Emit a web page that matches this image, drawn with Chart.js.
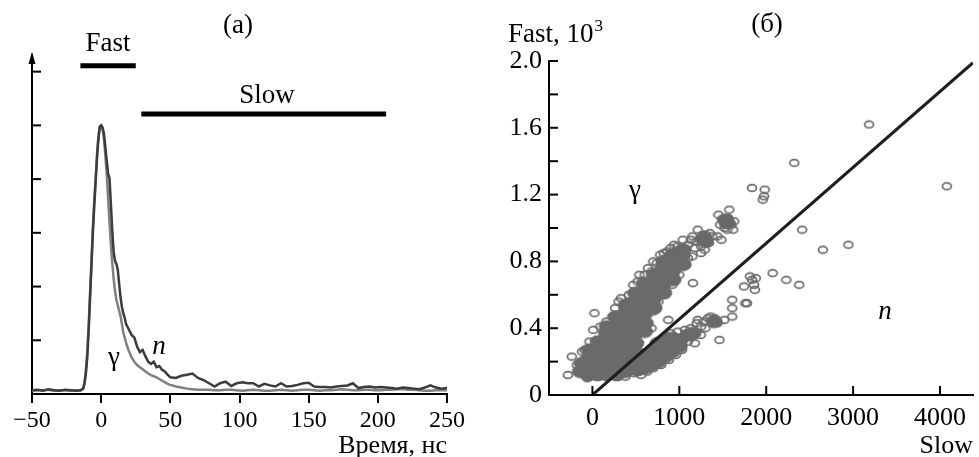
<!DOCTYPE html>
<html><head><meta charset="utf-8">
<script src="https://cdn.jsdelivr.net/npm/chart.js@4.4.1/dist/chart.umd.min.js"></script>
<style>
html,body{margin:0;padding:0;background:#fff;width:979px;height:457px;overflow:hidden}
#c1{position:absolute;left:0;top:0}
#c2{position:absolute;left:470px;top:0}
</style></head><body>
<canvas id="c1" width="470" height="457"></canvas>
<canvas id="c2" width="509" height="457"></canvas>
<script>
// ---------- Panel (а): pulse shapes ----------
const times = [-50,-46,-42,-38,-34,-30,-26,-22,-18,-15,
  -13,-12,-11,-10,-9,-8,-7,-6,-5,-4,-3,-2,-1,0,
  1,2,3,4,5,6,7,8,9,10,11,12,13,14,15,16,17,18,
  20,22,24,26,28,30,32,34,36,38,40,42,44,46,48,50,
  54,58,62,66,70,74,78,82,86,90,94,98,102,106,110,114,118,122,126,130,
  134,138,142,146,150,154,158,162,166,170,174,178,182,186,190,194,198,202,206,210,
  214,218,222,226,230,234,238,242,246,250];
const neutronPulse = [0.07,0.08,0.06,0.09,0.07,0.06,0.08,0.07,0.06,0.07,
  0.1,0.2,0.4,0.7,1.2,1.8,2.4,3.0,3.5,3.95,4.4,4.75,4.97,5.0,
  4.96,4.85,4.6,4.35,4.1,4.02,3.55,3.05,2.65,2.48,2.42,2.32,2.05,1.8,1.62,1.5,1.42,1.3,
  1.2,1.1,1.05,0.88,0.78,0.82,0.7,0.6,0.56,0.6,0.5,0.52,0.45,0.42,0.36,0.31,
  0.3,0.34,0.36,0.38,0.3,0.26,0.2,0.14,0.2,0.23,0.15,0.2,0.22,0.2,0.2,0.14,0.19,0.16,0.14,0.2,
  0.14,0.15,0.17,0.2,0.21,0.14,0.13,0.13,0.12,0.14,0.15,0.16,0.2,0.11,0.13,0.14,0.12,0.13,0.12,0.11,
  0.1,0.12,0.11,0.1,0.09,0.12,0.16,0.12,0.1,0.11];
const gammaPulse = [0.06,0.07,0.07,0.08,0.06,0.07,0.07,0.06,0.07,0.06,
  0.1,0.22,0.45,0.8,1.3,1.9,2.5,3.1,3.6,4.0,4.45,4.8,4.98,4.99,
  4.92,4.75,4.45,4.1,3.65,3.2,2.8,2.45,2.15,1.92,1.76,1.65,1.55,1.45,1.3,1.15,1.05,0.95,
  0.8,0.68,0.6,0.54,0.5,0.46,0.42,0.38,0.35,0.33,0.31,0.28,0.25,0.22,0.19,0.17,
  0.14,0.12,0.1,0.09,0.08,0.08,0.08,0.07,0.07,0.08,0.08,0.07,0.06,0.07,0.08,0.07,0.06,0.06,0.07,0.08,
  0.07,0.06,0.07,0.08,0.08,0.07,0.06,0.07,0.07,0.08,0.09,0.08,0.07,0.07,0.08,0.08,0.07,0.07,0.08,0.08,
  0.09,0.09,0.08,0.08,0.07,0.06,0.06,0.07,0.07,0.07];
const fastGate = [-15, 25];
const slowGate = [29, 206];
const fastGateLevel = 6.11;
const slowGateLevel = 5.21;
const leftXTickValues = [-50,0,50,100,150,200,250];
const leftXTickLabels = ['\u221250','0','50','100','150','200','250'];
const leftYTickValues = [1,2,3,4,5,6];

// ---------- Panel (б): Fast vs Slow ----------
const gammaCore = [[-140,0.14],[-120,0.19],
  [-50,0.12],[-30,0.17],[-45,0.22],[-35,0.27],
  [60,0.12],[50,0.17],[70,0.22],[55,0.27],[65,0.32],
  [170,0.12],[160,0.17],[180,0.22],[165,0.27],[175,0.32],[160,0.37],[170,0.41],
  [280,0.12],[290,0.17],[270,0.22],[285,0.27],[275,0.32],[290,0.37],[280,0.42],[275,0.47],
  [380,0.14],[395,0.19],[385,0.24],[400,0.29],[390,0.34],[380,0.39],[395,0.44],[385,0.49],[390,0.54],
  [490,0.26],[500,0.31],[485,0.36],[495,0.41],[505,0.46],[490,0.51],[500,0.56],[495,0.61],
  [600,0.38],[610,0.43],[595,0.48],[605,0.53],[600,0.58],[610,0.63],[600,0.67],
  [710,0.52],[700,0.57],[715,0.62],[705,0.67],[710,0.72],
  [820,0.61],[810,0.66],[825,0.71],[815,0.76],[820,0.8],
  [930,0.69],[920,0.74],[935,0.79],[925,0.84],
  [1040,0.78],[1030,0.83],[1045,0.87],
  [1280,0.94],[1300,0.92],[1530,1.05],[1550,1.03]];
const neutronCore = [[440,0.16],[450,0.20],[520,0.15],[530,0.19],[525,0.23],[600,0.16],[610,0.20],
  [605,0.24],[680,0.18],[690,0.22],[685,0.26],[760,0.20],[770,0.24],[765,0.28],[755,0.31],
  [840,0.23],[850,0.27],[845,0.31],[855,0.34],[920,0.26],[930,0.30],[925,0.34],[1000,0.29],
  [1010,0.33],[1100,0.36],[1160,0.37],[1400,0.44]];
const gammaScatter = [[-283,0.12],[-238,0.23],[-180,0.18],[-120,0.26],[-91,0.27],[-34,0.32],[-60,0.10],
  [10,0.39],[23,0.49],[90,0.41],[159,0.44],[170,0.40],[120,0.33],[230,0.47],[260,0.52],[329,0.58],
  [363,0.52],[300,0.56],[420,0.60],[440,0.56],[470,0.66],[520,0.68],[555,0.43],[540,0.72],[600,0.72],
  [640,0.76],[680,0.74],[680,0.40],[700,0.80],[740,0.79],[780,0.84],[820,0.85],[860,0.86],[873,0.45],
  [900,0.88],[940,0.90],[980,0.89],[1000,0.82],[1040,0.93],[1060,0.86],[1099,0.82],[1100,0.90],
  [1133,0.93],[1150,0.95],[1156,0.67],[1180,0.88],[1200,0.92],[1212,0.99],[1235,0.93],[1250,0.89],
  [1270,0.96],[1292,0.87],[1303,0.96],[1320,0.93],[1340,0.91],[1350,0.97],[1380,0.95],[1439,0.95],
  [1450,1.08],[1470,1.02],[1484,0.93],[1500,1.05],[1520,1.00],[1530,1.03],[1552,0.99],[1560,1.06],
  [1575,1.11],[1600,1.02],[1632,1.04],[1620,0.99],[1836,1.24],[1983,1.23],[1960,1.17],[1975,1.19],
  [2323,1.39],[3184,1.62],
  [450,0.22],[520,0.30],[600,0.40],[700,0.50],[760,0.56],[850,0.62],[920,0.66],[1000,0.72],
  [1080,0.78],[1150,0.83],[1250,0.85]];
const neutronScatter = [[380,0.11],[420,0.21],[480,0.13],[500,0.20],[560,0.12],[590,0.25],[630,0.14],
  [680,0.27],[700,0.16],[790,0.18],[800,0.33],[880,0.21],[900,0.37],[960,0.24],[980,0.38],[1030,0.27],
  [1040,0.34],[1065,0.39],[1090,0.36],[1100,0.32],[1130,0.40],[1150,0.35],[1178,0.31],[1200,0.43],
  [1212,0.45],[1246,0.36],[1250,0.41],[1280,0.44],[1300,0.40],[1330,0.46],[1360,0.47],[1380,0.43],
  [1405,0.46],[1420,0.44],[1440,0.43],[1462,0.33],[1518,0.45],[1609,0.57],[1609,0.52],[1609,0.47],
  [1745,0.65],[1760,0.55],[1779,0.55],[1813,0.71],[1836,0.69],[1860,0.66],[1870,0.63],[1880,0.70],
  [2074,0.73],[2232,0.69],[2380,0.66],[2414,0.99],[2652,0.87],[2946,0.90],[4079,1.25]];
const separatorLine = [[0,0],[4380,1.99]];
const rightXTickValues = [0,1000,2000,3000,4000];
const rightXTickLabels = ['0','1000','2000','3000','4000'];
const rightYTickValues = [0,0.2,0.4,0.6,0.8,1.0,1.2,1.4,1.6,1.8,2.0];
const rightYTickLabels = ['0','','0.4','','0.8','','1.2','','1.6','','2.0'];

// ---------- styling ----------
Chart.defaults.font.family = '"Liberation Serif", "Times New Roman", serif';
Chart.defaults.color = '#000';

function ringMarker() {
  const c = document.createElement('canvas'); c.width = 12; c.height = 10;
  const g = c.getContext('2d');
  g.strokeStyle = '#6a6a6a'; g.lineWidth = 1.7;
  g.beginPath(); g.ellipse(6, 5, 4.5, 3.4, 0, 0, Math.PI*2); g.stroke();
  return c;
}
function blobMarker() {
  const c = document.createElement('canvas'); c.width = 18; c.height = 14;
  const g = c.getContext('2d');
  g.fillStyle = '#6b6b6b';
  g.beginPath(); g.ellipse(9, 7, 8.4, 6.4, 0, 0, Math.PI*2); g.fill();
  return c;
}
const ring = ringMarker(), blob = blobMarker();
const toXY = arr => arr.map(p => ({x: p[0], y: p[1]}));

const leftDecor = {
  id: 'leftDecor',
  afterDraw(chart) {
    const {ctx, chartArea: a, scales: {y}} = chart;
    ctx.save();
    ctx.strokeStyle = '#000'; ctx.lineWidth = 2;
    leftYTickValues.forEach(v => {
      const py = y.getPixelForValue(v);
      ctx.beginPath(); ctx.moveTo(a.left, py); ctx.lineTo(a.left + 9, py); ctx.stroke();
    });
    ctx.fillStyle = '#000';
    ctx.beginPath(); ctx.moveTo(a.left, a.top - 3); ctx.lineTo(a.left - 3.5, a.top + 9); ctx.lineTo(a.left + 3.5, a.top + 9); ctx.closePath(); ctx.fill();
    ctx.textAlign = 'center'; ctx.textBaseline = 'middle';
    ctx.font = '27px "Liberation Serif"';
    ctx.fillText('(а)', 238, 26);
    ctx.fillText('Fast', 108, 44);
    ctx.fillText('Slow', 267, 96);
    ctx.fillText('\u03b3', 114, 358);
    ctx.font = 'italic 27px "Liberation Serif"';
    ctx.fillText('n', 159, 347);
    ctx.restore();
  }
};

const rightDecor = {
  id: 'rightDecor',
  afterDraw(chart) {
    const {ctx, chartArea: a, scales: {x, y}} = chart;
    ctx.save();
    ctx.strokeStyle = '#000'; ctx.lineWidth = 2;
    rightYTickValues.forEach(v => {
      const py = y.getPixelForValue(v);
      ctx.beginPath(); ctx.moveTo(a.left, py); ctx.lineTo(a.left + 9, py); ctx.stroke();
    });
    rightXTickValues.forEach(v => {
      const px = x.getPixelForValue(v);
      ctx.beginPath(); ctx.moveTo(px, a.bottom); ctx.lineTo(px, a.bottom - 9); ctx.stroke();
    });
    ctx.fillStyle = '#000';
    ctx.textAlign = 'center'; ctx.textBaseline = 'middle';
    ctx.font = '27px "Liberation Serif"';
    ctx.fillText('(б)', 297, 25);
    ctx.fillText('\u03b3', 165, 191);
    ctx.textAlign = 'left';
    const label = 'Fast, 10';
    ctx.fillText(label, 38, 35);
    const w = ctx.measureText(label).width;
    ctx.font = '17px "Liberation Serif"';
    ctx.fillText('3', 38 + w + 1, 27);
    ctx.textAlign = 'center';
    ctx.font = 'italic 27px "Liberation Serif"';
    ctx.fillText('n', 415, 312);
    ctx.restore();
  }
};

new Chart(document.getElementById('c1'), {
  type: 'line',
  data: {
    datasets: [
      {label: 'n', data: times.map((t, i) => ({x: t, y: neutronPulse[i]})), borderColor: '#3c3c3c', borderWidth: 2.5, pointRadius: 0, tension: 0},
      {label: 'γ', data: times.map((t, i) => ({x: t, y: gammaPulse[i]})), borderColor: '#808080', borderWidth: 2.5, pointRadius: 0, tension: 0},
      {label: 'Fast gate', data: fastGate.map(t => ({x: t, y: fastGateLevel})), borderColor: '#000', borderWidth: 5, pointRadius: 0, borderCapStyle: 'butt'},
      {label: 'Slow gate', data: slowGate.map(t => ({x: t, y: slowGateLevel})), borderColor: '#000', borderWidth: 5, pointRadius: 0, borderCapStyle: 'butt'}
    ]
  },
  options: {
    responsive: false, animation: false, devicePixelRatio: 1,
    layout: {padding: {left: 32, top: 55, right: 23, bottom: 0}},
    plugins: {legend: {display: false}, tooltip: {enabled: false}},
    scales: {
      x: {
        type: 'linear', min: -50, max: 250,
        afterBuildTicks: s => { s.ticks = leftXTickValues.map(v => ({value: v})); },
        afterFit: s => { s.height = 63; },
        ticks: {callback: (v, i) => leftXTickLabels[i], font: {size: 24}, padding: 3, maxRotation: 0, autoSkip: false, color: '#000'},
        grid: {display: true, drawOnChartArea: false, drawTicks: true, tickLength: 9, color: '#000', lineWidth: 2},
        border: {display: true, color: '#000', width: 2},
        title: {display: true, text: 'Время, нс', align: 'end', font: {size: 26}, color: '#000', padding: {top: 0, bottom: -5}}
      },
      y: {
        type: 'linear', min: 0, max: 6.31,
        afterFit: s => { s.width = 0; },
        ticks: {display: false},
        grid: {display: true, drawOnChartArea: false, drawTicks: false},
        border: {display: true, color: '#000', width: 2}
      }
    }
  },
  plugins: [leftDecor]
});

new Chart(document.getElementById('c2'), {
  type: 'scatter',
  data: {
    datasets: [
      {type: 'line', label: 'boundary', data: toXY(separatorLine), borderColor: '#1e1e1e', borderWidth: 3, pointRadius: 0},
      {label: 'γ sparse', data: toXY(gammaScatter), pointStyle: ring, pointRadius: 4},
      {label: 'n sparse', data: toXY(neutronScatter), pointStyle: ring, pointRadius: 4},
      {label: 'γ dense', data: toXY(gammaCore), pointStyle: blob, pointRadius: 5},
      {label: 'n dense', data: toXY(neutronCore), pointStyle: blob, pointRadius: 5}
    ]
  },
  options: {
    responsive: false, animation: false, devicePixelRatio: 1,
    layout: {padding: {left: 0, top: 61, right: 0, bottom: 0}},
    plugins: {legend: {display: false}, tooltip: {enabled: false}},
    scales: {
      x: {
        type: 'linear', min: -500, max: 4380,
        afterBuildTicks: s => { s.ticks = rightXTickValues.map(v => ({value: v})); },
        afterFit: s => { s.height = 62; },
        ticks: {callback: (v, i) => rightXTickLabels[i], font: {size: 26}, padding: 8, maxRotation: 0, autoSkip: false, color: '#000'},
        grid: {display: true, drawOnChartArea: false, drawTicks: false},
        border: {display: true, color: '#000', width: 2},
        title: {display: true, text: 'Slow', align: 'end', font: {size: 26}, color: '#000', padding: {top: 0, bottom: -5}}
      },
      y: {
        type: 'linear', min: 0, max: 2.0,
        afterBuildTicks: s => { s.ticks = rightYTickValues.map(v => ({value: v})); },
        afterFit: s => { s.width = 79; },
        ticks: {callback: (v, i) => rightYTickLabels[i], font: {size: 26}, padding: 7, autoSkip: false, color: '#000'},
        grid: {display: true, drawOnChartArea: false, drawTicks: false},
        border: {display: true, color: '#000', width: 2}
      }
    }
  },
  plugins: [rightDecor]
});
</script>
</body></html>
